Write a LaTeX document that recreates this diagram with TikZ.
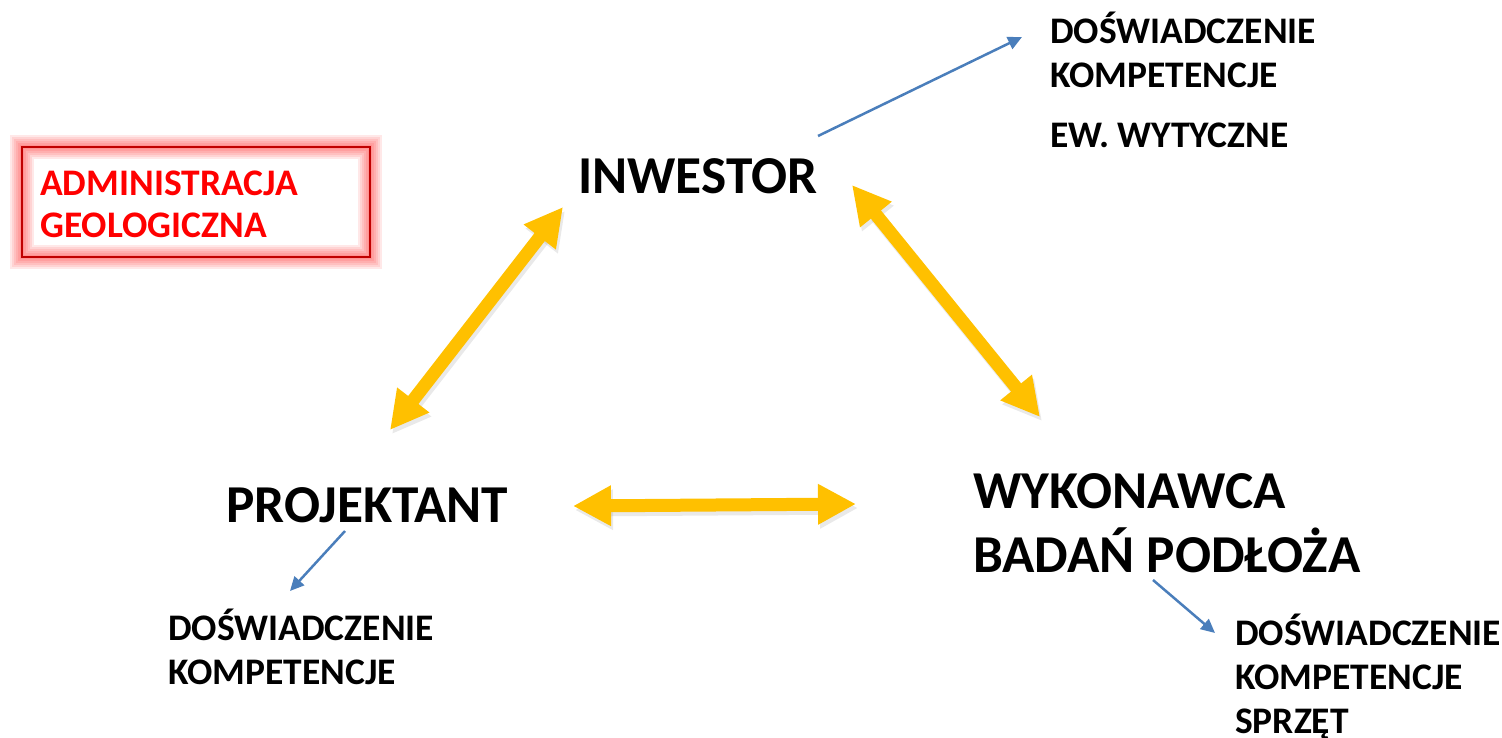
\documentclass[tikz,border=0pt]{standalone}
\usepackage{fontspec}
\setmainfont{Carlito}
\usetikzlibrary{arrows.meta}
\definecolor{gold}{HTML}{FFC000}
\definecolor{bluearr}{HTML}{4A7EBB}
\definecolor{darkred}{HTML}{C00000}
\tikzset{
  x=1pt,y=-1pt,
  bigtxt/.style={inner sep=0pt,anchor=base west,align=left,font=\bfseries\fontsize{53.3}{64}\selectfont},
  smalltxt/.style={inner sep=0pt,anchor=base west,align=left,font=\bfseries\fontsize{37.5}{44}\selectfont},
  admtxt/.style={inner sep=0pt,anchor=base west,align=left,text=red,font=\bfseries\fontsize{37.5}{42}\selectfont},
  goldarrow/.style={draw=gold,line width=13pt,{Triangle[width=38pt,length=38pt]}-{Triangle[width=38pt,length=38pt]}},
  goldshadow/.style={draw=black!40,opacity=0.22,line width=13pt,{Triangle[width=38pt,length=38pt]}-{Triangle[width=38pt,length=38pt]}},
  bluearrow/.style={draw=bluearr,line width=2.5pt,-{Triangle[width=13pt,length=14pt]}},
}
\begin{document}
\begin{tikzpicture}
\useasboundingbox (0,0) rectangle (1502,737);
% admin box glow
\foreach \w in {24,20,16,12,8,4} {
  \draw[red,opacity=0.09,line width=\w pt] (22,147) rectangle (370,257);
}
\draw[darkred,line width=1.5pt] (22,147) rectangle (370,257);
\node[admtxt] (adm) at (40,237) {ADMINISTRACJA\\GEOLOGICZNA};

% main nodes
\node[bigtxt] (inw) at (578,193) {INWESTOR};
\node[bigtxt] (proj) at (226,522) {PROJEKTANT};
\node[bigtxt] (wyk) at (973,572) {WYKONAWCA\\BADAŃ PODŁOŻA};

% detail texts
\node[smalltxt] (dtop) at (1050,147) {DOŚWIADCZENIE\\KOMPETENCJE\\[16pt]EW. WYTYCZNE};
\node[smalltxt] (dleft) at (168,684) {DOŚWIADCZENIE\\KOMPETENCJE};
\node[smalltxt] (dright) at (1235,733) {DOŚWIADCZENIE\\KOMPETENCJE\\SPRZĘT};

% gold double arrows
\coordinate (l1) at (390,430); \coordinate (l2) at (563,207);
\coordinate (r1) at (852,185); \coordinate (r2) at (1040,417);
\coordinate (b1) at (573,506); \coordinate (b2) at (856,504);
\foreach \a/\b in {l1/l2,r1/r2,b1/b2} {
  \draw[goldshadow] ([shift={(2,4)}]\a) -- ([shift={(2,4)}]\b);
}
\draw[goldarrow] (l1) -- (l2);
\draw[goldarrow] (r1) -- (r2);
\draw[goldarrow] (b1) -- (b2);

% blue arrows
\coordinate (t1) at (818,136); \coordinate (t2) at (1022,37);
\coordinate (p1) at (345,531); \coordinate (p2) at (290,591);
\coordinate (w1) at (1153,580); \coordinate (w2) at (1215,633);
\draw[bluearrow] (t1) -- (t2);
\draw[bluearrow] (p1) -- (p2);
\draw[bluearrow] (w1) -- (w2);
\end{tikzpicture}
\end{document}
